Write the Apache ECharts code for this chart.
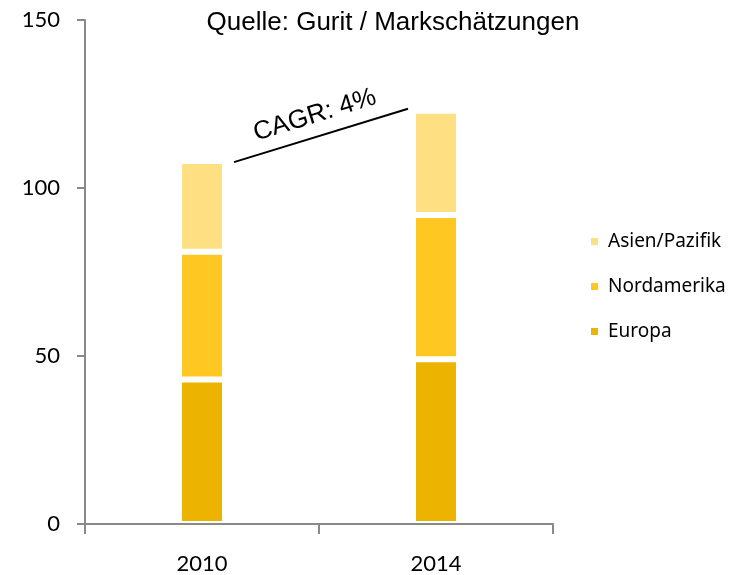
<!DOCTYPE html>
<html>
<head>
<meta charset="utf-8">
<script src="https://cdn.jsdelivr.net/npm/echarts@6/dist/echarts.min.js"></script>
<style>
  html, body { margin: 0; padding: 0; background: #fff; }
  #chart { width: 744px; height: 575px; }
</style>
</head>
<body>
<div id="chart"></div>
<script>
// data
const years = ['2010', '2014']
const europa = [43, 49]
const nordamerika = [38, 43]
const asienPazifik = [27, 31]
const yTicks = [0, 50, 100, 150]
const cagrText = 'CAGR: 4%'

const colors = {
  asien: '#FEDF81',
  nord: '#FEC722',
  europa: '#ECB400'
}

let myChart = echarts.init(document.getElementById('chart'))

function barSeries(name, data, color) {
  return {
    name: name,
    type: 'bar',
    stack: 'total',
    barWidth: 46,
    data: data,
    itemStyle: {
      color: color,
      borderColor: '#fff',
      borderWidth: 3
    }
  }
}

let option = {
  animation: false,
  textStyle: { fontFamily: 'Lato' },
  title: {
    text: 'Quelle: Gurit / Markschätzungen',
    left: 388,
    textAlign: 'center',
    top: 5,
    textStyle: {
      fontFamily: 'Liberation Sans',
      fontSize: 26,
      fontWeight: 'normal',
      color: '#000'
    }
  },
  grid: {
    left: 85,
    right: 191,
    top: 20,
    bottom: 48
  },
  legend: {
    orient: 'vertical',
    left: 584,
    top: 227,
    itemWidth: 9,
    itemHeight: 9,
    itemGap: 26,
    icon: 'rect',
    data: ['Asien/Pazifik', 'Nordamerika', 'Europa'],
    textStyle: { fontFamily: 'Noto Sans', fontSize: 19, color: '#000', padding: [0, 0, 0, 4] }
  },
  xAxis: {
    type: 'category',
    data: years,
    z: 5,
    axisLine: { lineStyle: { color: '#898989', width: 2 } },
    axisTick: { show: true, length: 10, lineStyle: { color: '#898989', width: 2 } },
    axisLabel: { color: '#000', fontSize: 22, margin: 29 }
  },
  yAxis: {
    type: 'value',
    min: yTicks[0],
    max: yTicks[yTicks.length - 1],
    interval: yTicks[1] - yTicks[0],
    axisLine: { show: true, lineStyle: { color: '#898989', width: 2 } },
    axisTick: { show: true, inside: false, length: 8, lineStyle: { color: '#898989', width: 2 } },
    splitLine: { show: false },
    axisLabel: { color: '#000', fontSize: 22, margin: 25 }
  },
  series: [
    barSeries('Europa', europa, colors.europa),
    barSeries('Nordamerika', nordamerika, colors.nord),
    barSeries('Asien/Pazifik', asienPazifik, colors.asien)
  ]
}
myChart.setOption(option)

// CAGR annotation line between the bar tops
const totals = years.map((y, i) => europa[i] + nordamerika[i] + asienPazifik[i])
const p0 = myChart.convertToPixel({ gridIndex: 0 }, [0, totals[0]])
const p1 = myChart.convertToPixel({ gridIndex: 0 }, [1, totals[1]])
const a = [p0[0] + 32, p0[1] + 1]
const b = [p1[0] - 28, p1[1] - 2]
const ang = Math.atan2(a[1] - b[1], b[0] - a[0])
const mid = [(a[0] + b[0]) / 2, (a[1] + b[1]) / 2]

myChart.setOption({
  graphic: [
    {
      type: 'line',
      shape: { x1: a[0], y1: a[1], x2: b[0], y2: b[1] },
      style: { stroke: '#000', lineWidth: 2 }
    },
    {
      type: 'text',
      x: mid[0] - 8 * Math.sin(ang),
      y: mid[1] - 8 * Math.cos(ang),
      rotation: ang,
      style: {
        text: cagrText,
        fontFamily: 'Liberation Sans',
        fontSize: 26,
        fill: '#000',
        align: 'center',
        verticalAlign: 'bottom'
      }
    }
  ]
})
</script>
</body>
</html>
